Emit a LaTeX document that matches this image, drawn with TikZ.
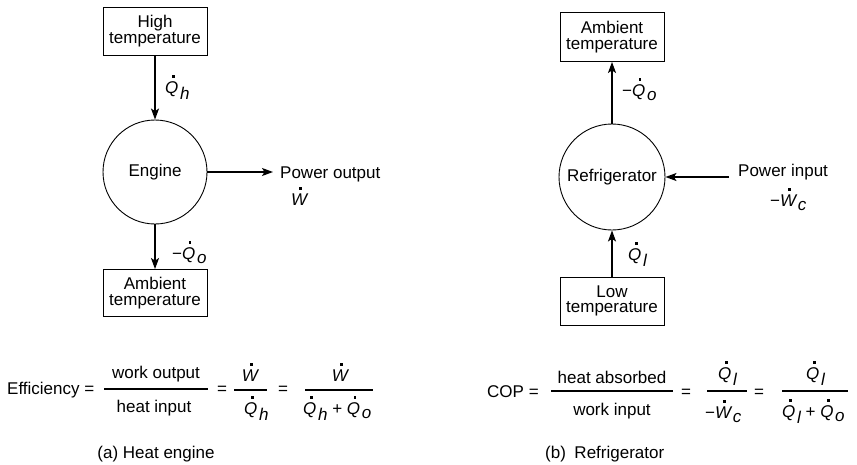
\documentclass[tikz,border=0pt]{standalone}
\usepackage{fontspec}
\setmainfont{Liberation Sans}
\usetikzlibrary{arrows.meta}
\newcommand\dotit[1]{{\setbox0\hbox{\itshape #1}\rlap{\hbox to\wd0{\hss\kern0.16em\raisebox{0.9em}[0pt][0pt]{\rule{0.16em}{0.16em}}\hss}}\box0}}
\newcommand\sub[2][0.36em]{\kern0.1em\raisebox{-#1}[0pt][0pt]{\itshape #2}}
\newcommand\myfont{\fontsize{17}{15.5}\selectfont\lineskiplimit=-20pt\relax}
\begin{document}
\begin{tikzpicture}[x=1pt,y=-1pt,
  every node/.style={font=\myfont, inner sep=0pt},
  box/.style={draw, line width=0.9pt, minimum width=104pt, minimum height=48pt, align=center},
  circ/.style={draw, circle, line width=0.9pt, inner sep=0pt},
  arr/.style={line width=1.3pt, -{Stealth[length=11pt,width=8pt,inset=2.5pt]}},
  fbar/.style={line width=1.3pt}]
\useasboundingbox (0,0) rectangle (857,464);
% ---------- (a) heat engine ----------
\node[box] (ht) at (155,31) {High\\temperature};
\node[circ, minimum size=104pt] (eng) at (155,172) {Engine};
\node[box, minimum height=47pt] (amb1) at (155,293) {Ambient\\temperature};
\coordinate (po) at (273,172);
\draw[arr] (ht.south) -- (eng.north);
\draw[arr] (eng.south) -- (amb1.north);
\draw[arr] (eng.east) -- (po);
\node[anchor=base west] (lqh) at (165,93) {\dotit{Q}\sub{h}};
\node[anchor=base west] (lqo) at (172,259) {−\dotit{Q}\sub[0.25em]{o}};
\node[anchor=base west] (pout) at (280,178) {Power output};
\node[anchor=base west] (lw) at (291,205) {\dotit{W}};
% ---------- (b) refrigerator ----------
\node[box, minimum height=49pt] (amb2) at (612,37) {Ambient\\temperature};
\node[circ, minimum size=106pt] (ref) at (612,177) {Refrigerator};
\node[box] (low) at (612,301) {Low\\temperature};
\coordinate (pi) at (729,177);
\draw[arr] (ref.north) -- (amb2.south);
\draw[arr] (low.north) -- (ref.south);
\draw[arr] (pi) -- (ref.east);
\node[anchor=base west] (rqo) at (622,96) {−\dotit{Q}\sub[0.25em]{o}};
\node[anchor=base west] (rql) at (628,260) {\dotit{Q}\sub{l}};
\node[anchor=base west] (pin) at (738,176) {Power input};
\node[anchor=base west] (lwc) at (770,206) {−\dotit{W}\sub[0.25em]{c}};
% ---------- efficiency ----------
\node[anchor=base west] (eff) at (7,394) {Efficiency =};
\node[anchor=base] (wo) at (156,378) {work output};
\node[anchor=base] (hi) at (154,412) {heat input};
\draw[fbar] (104,389) -- (208,389);
\node[anchor=base] (eq1) at (222,394) {=};
\node[anchor=base] (w1) at (250,381) {\dotit{W}};
\node[anchor=base west] (qh1) at (244,414) {\dotit{Q}\sub{h}};
\draw[fbar] (234,390) -- (267,390);
\node[anchor=base] (eq2) at (283,394) {=};
\node[anchor=base] (w2) at (340,381) {\dotit{W}};
\node[anchor=base west] (qs1) at (303,414) {\dotit{Q}\sub{h} + \dotit{Q}\sub[0.25em]{o}};
\draw[fbar] (305,390) -- (373,390);
\node[anchor=base] (capa) at (156,458) {(a) Heat engine};
% ---------- COP ----------
\node[anchor=base west] (cop) at (487,397) {COP =};
\node[anchor=base] (ha) at (612,383) {heat absorbed};
\node[anchor=base] (wi) at (612,415) {work input};
\draw[fbar] (551,391) -- (673,391);
\node[anchor=base] (eq3) at (686,397) {=};
\node[anchor=base west] (ql1) at (718,379) {\dotit{Q}\sub{l}};
\node[anchor=base west] (wc) at (705,418) {−\dotit{W}\sub[0.25em]{c}};
\draw[fbar] (707,391) -- (747,391);
\node[anchor=base] (eq4) at (759,397) {=};
\node[anchor=base west] (ql2) at (806,379) {\dotit{Q}\sub{l}};
\node[anchor=base west] (qs2) at (782,417) {\dotit{Q}\sub{l} + \dotit{Q}\sub[0.25em]{o}};
\draw[fbar] (782,391) -- (848,391);
\node[anchor=base west] (capb) at (545,458) {(b)\enspace Refrigerator};
\end{tikzpicture}
\end{document}
